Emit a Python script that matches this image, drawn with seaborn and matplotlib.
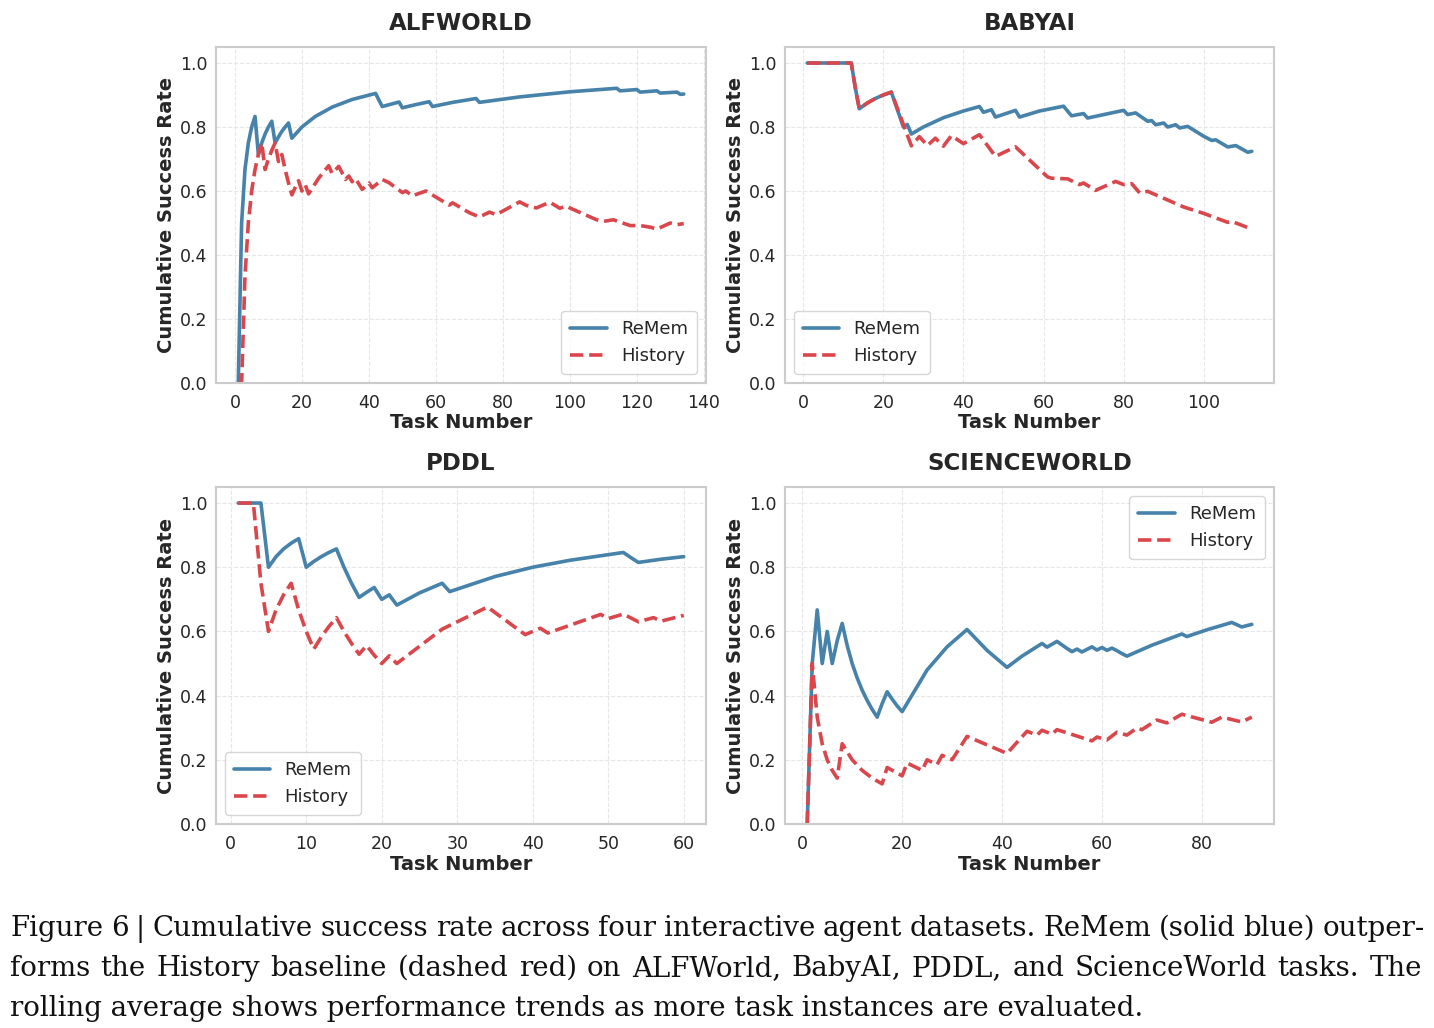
import numpy as np
import pandas as pd
import matplotlib
matplotlib.use("Agg")
import matplotlib.pyplot as plt
import seaborn as sns

# ---- data (task number, cumulative success rate) ----
alf_x_remem = [1, 2, 3, 4, 5, 6, 7, 8, 9, 10, 11, 12, 13, 14, 15, 16, 17, 20, 24, 29, 35, 42,
               43, 44, 49, 50, 54, 58, 59, 65, 72, 73, 85, 100, 114, 115, 120, 121, 126, 127, 132, 133, 134]
alf_y_remem = [0.0, 0.5, 0.667, 0.75, 0.8, 0.833, 0.714, 0.75, 0.778, 0.8, 0.818, 0.75, 0.769, 0.786, 0.8, 0.8125, 0.765,
               0.8, 0.833, 0.862, 0.886, 0.905,
               0.884, 0.864, 0.878, 0.86, 0.870, 0.879, 0.864, 0.877, 0.889, 0.877,
               0.894, 0.91, 0.921, 0.913, 0.917, 0.909, 0.913, 0.906, 0.909, 0.902, 0.903]
alf_x_hist = [1, 2, 3, 4, 5, 6, 7, 8, 9, 10, 11, 12, 13, 14, 15, 16, 17, 18, 19, 20, 21, 22,
              25, 28, 29, 31, 33, 34, 35, 36, 38, 40, 41, 44, 46, 50, 51, 53, 57,
              64, 65, 70, 73, 76, 78, 85, 87, 90, 94, 97, 99, 100,
              108, 110, 113, 118, 121, 124, 126, 130, 132, 134]
alf_y_hist = [0.0, 0.0, 0.333, 0.5, 0.6, 0.667, 0.714, 0.75, 0.667, 0.7, 0.727, 0.75, 0.692, 0.714, 0.667, 0.625,
              0.588, 0.611, 0.632, 0.6, 0.619, 0.591,
              0.64, 0.679, 0.655, 0.677, 0.636, 0.647, 0.629, 0.639, 0.605, 0.625, 0.61, 0.636, 0.626, 0.595, 0.6, 0.585, 0.6,
              0.556, 0.563, 0.532, 0.519, 0.534, 0.526, 0.566, 0.555, 0.547, 0.565, 0.546, 0.553, 0.547,
              0.51, 0.505, 0.51, 0.492, 0.492, 0.487, 0.481, 0.5, 0.495, 0.498]

baby_x_remem = [1, 12, 13, 14, 16, 18, 20, 22, 25, 26, 27, 30, 35, 40, 44,
                45, 47, 48, 53, 54, 59, 65, 67, 70, 71, 80, 81, 83, 86, 87, 88, 90, 91, 93, 94, 96,
                100, 102, 103, 106, 108, 111, 112]
baby_y_remem = [1.0, 1.0, 0.923, 0.857, 0.875, 0.889, 0.9, 0.909, 0.8, 0.808, 0.778, 0.8, 0.829, 0.85, 0.864,
                0.846, 0.854, 0.831, 0.852, 0.831, 0.85, 0.865, 0.835, 0.842, 0.828, 0.852,
                0.839, 0.844, 0.818, 0.82, 0.807, 0.8125, 0.8, 0.807, 0.797, 0.802,
                0.771, 0.758, 0.76, 0.7375, 0.742, 0.721, 0.724]
baby_x_hist = [1, 12, 13, 14, 16, 18, 20, 22, 27, 29, 31, 33, 35, 37, 40, 44,
               48, 53, 61, 62, 66, 69, 70, 73, 78, 80, 82, 84, 86, 95, 100, 106, 107, 112]
baby_y_hist = [1.0, 1.0, 0.923, 0.857, 0.875, 0.889, 0.9, 0.909, 0.741, 0.77, 0.742, 0.765, 0.74, 0.773, 0.748, 0.776,
               0.708, 0.738, 0.644, 0.64, 0.638, 0.62, 0.625, 0.602, 0.63, 0.62,
               0.623, 0.594, 0.599, 0.55, 0.53, 0.502, 0.505, 0.481]

pddl_x_remem = [1, 4, 5, 6, 7, 8, 9, 10, 11, 12, 13, 14, 15, 16, 17, 18, 19, 20, 21, 22,
                25, 28, 29, 35, 40, 45, 52, 53, 54, 57, 60]
pddl_y_remem = [1.0, 1.0, 0.8, 0.833, 0.857, 0.875, 0.889, 0.8, 0.818, 0.833, 0.846, 0.857, 0.8, 0.75, 0.706,
                0.722, 0.737, 0.7, 0.714, 0.682,
                0.72, 0.75, 0.724, 0.771, 0.8, 0.822, 0.846, 0.83, 0.815, 0.825, 0.833]
pddl_x_hist = [1, 3, 4, 5, 6, 7, 8, 9, 10, 11, 12, 13, 14, 15, 16, 17, 18, 19, 20, 21, 22,
               28, 34, 39, 40, 41, 42, 49, 50, 52, 53, 54, 56, 57, 60]
pddl_y_hist = [1.0, 1.0, 0.75, 0.6, 0.667, 0.714, 0.75, 0.667, 0.6, 0.545, 0.583, 0.615, 0.643, 0.6, 0.5625,
               0.529, 0.556, 0.526, 0.5, 0.524, 0.5,
               0.607, 0.676, 0.59, 0.6, 0.61, 0.595, 0.653, 0.64, 0.654, 0.642, 0.63, 0.643, 0.632, 0.65]

sci_x_remem = [1, 2, 3, 4, 5, 6, 7, 8, 9, 10, 11, 12, 13, 14, 15, 16, 17, 18, 19, 20,
               25, 29, 33, 37, 41, 44, 48,
               49, 50, 51, 52, 53, 54, 55, 56, 57, 58, 59, 60, 61, 62, 63, 64, 65,
               70, 76, 77, 81, 86, 87, 88, 89, 90]
sci_y_remem = [0.0, 0.5, 0.667, 0.5, 0.6, 0.5, 0.571, 0.625, 0.556, 0.5, 0.455, 0.417, 0.385, 0.357, 0.333,
               0.375, 0.412, 0.389, 0.368, 0.35,
               0.48, 0.552, 0.606, 0.541, 0.488, 0.523, 0.5625,
               0.551, 0.56, 0.569, 0.558, 0.547, 0.537, 0.545, 0.536, 0.544, 0.552, 0.542, 0.55, 0.541, 0.548,
               0.54, 0.531, 0.523,
               0.557, 0.592, 0.584, 0.605, 0.628, 0.621, 0.614, 0.618, 0.622]
sci_x_hist = [1, 2, 3, 4, 5, 6, 7, 8, 10, 12, 14, 16, 17,
              20, 21, 24, 25, 27, 28, 30, 33, 41,
              45, 47, 48, 50, 51, 58, 59, 61, 63, 65,
              67, 68, 71, 73, 76, 82, 84, 88, 90]
sci_y_hist = [0.0, 0.5, 0.333, 0.25, 0.2, 0.167, 0.143, 0.25, 0.2, 0.167, 0.143, 0.125, 0.176,
              0.15, 0.19, 0.167, 0.2, 0.185, 0.214, 0.2, 0.273, 0.22,
              0.289, 0.277, 0.292, 0.28, 0.294, 0.259, 0.271, 0.262, 0.286, 0.277,
              0.299, 0.294, 0.324, 0.315, 0.342, 0.317, 0.333, 0.318, 0.333]

titles = ["ALFWORLD", "BABYAI", "PDDL", "SCIENCEWORLD"]
legend_locs = ["lower right", "lower left", "lower left", "upper right"]
caption = [
    "Figure 6 | Cumulative success rate across four interactive agent datasets. ReMem (solid blue) outper-",
    "forms the History baseline (dashed red) on ALFWorld, BabyAI, PDDL, and ScienceWorld tasks. The",
    "rolling average shows performance trends as more task instances are evaluated.",
]

panels = [
    (alf_x_remem, alf_y_remem, alf_x_hist, alf_y_hist),
    (baby_x_remem, baby_y_remem, baby_x_hist, baby_y_hist),
    (pddl_x_remem, pddl_y_remem, pddl_x_hist, pddl_y_hist),
    (sci_x_remem, sci_y_remem, sci_x_hist, sci_y_hist),
]

blue = "#4682AA"
red = "#D9474C"

sns.set_theme(style="whitegrid")
plt.rcParams["font.family"] = ["DejaVu Sans"]

fig = plt.figure(figsize=(14.34, 10.28), dpi=100)
W, H = 1434, 1028
boxes = [(216, 47, 706, 383), (785, 47, 1274, 383),
         (216, 487, 706, 824), (785, 487, 1274, 824)]

for i, (xr, yr, xh, yh) in enumerate(panels):
    l, t, r, b = boxes[i]
    ax = fig.add_axes([l / W, 1 - b / H, (r - l) / W, (b - t) / H])
    sns.lineplot(x=xr, y=yr, ax=ax, color=blue, linewidth=2.6, label="ReMem")
    sns.lineplot(x=xh, y=yh, ax=ax, color=red, linewidth=2.6, linestyle="--", label="History")
    ax.set_ylim(0, 1.05)
    ax.set_yticks([0.0, 0.2, 0.4, 0.6, 0.8, 1.0])
    ax.grid(True, linestyle="--", linewidth=0.8, color="#e6e6e6")
    for s in ax.spines.values():
        s.set_color("#cccccc")
        s.set_linewidth(1.5)
    ax.tick_params(axis="both", length=0, labelsize=12.5)
    ax.tick_params(axis="y", pad=6)
    ax.tick_params(axis="x", pad=8)
    ax.set_title(titles[i], fontsize=16.5, fontweight="bold", pad=12)
    ax.set_xlabel("Task Number", fontsize=14, fontweight="bold", labelpad=1)
    ax.set_ylabel("Cumulative Success Rate", fontsize=14, fontweight="bold", labelpad=3)
    leg = ax.legend(loc=legend_locs[i], fontsize=13, frameon=True, handlelength=2.0,
                    borderpad=0.5, labelspacing=0.5)
    leg.get_frame().set_edgecolor("#cccccc")

# caption: size fitted so the last (ragged) line has its width; first two lines justified
renderer = fig.canvas.get_renderer()
probe = fig.text(0, 0, caption[2], fontsize=20, family="DejaVu Serif")
w3 = probe.get_window_extent(renderer).width
probe.remove()
cap_size = 20 * 1130 / w3
line_right = [1425, 1422, None]
for k, line in enumerate(caption):
    yb = 1 - (936 + 40 * k) / H
    if line_right[k] is None:
        fig.text(10 / W, yb, line, fontsize=cap_size, family="DejaVu Serif",
                 ha="left", va="baseline", color="#111111")
        continue
    words = line.split(" ")
    objs = [fig.text(0, yb, w, fontsize=cap_size, family="DejaVu Serif",
                     ha="left", va="baseline", color="#111111") for w in words]
    widths = [o.get_window_extent(renderer).width for o in objs]
    gap = (line_right[k] - 10 - sum(widths)) / (len(words) - 1)
    xpos = 10
    for o, wd in zip(objs, widths):
        o.set_x(xpos / W)
        xpos += wd + gap

fig.savefig("out.png", dpi=100)
